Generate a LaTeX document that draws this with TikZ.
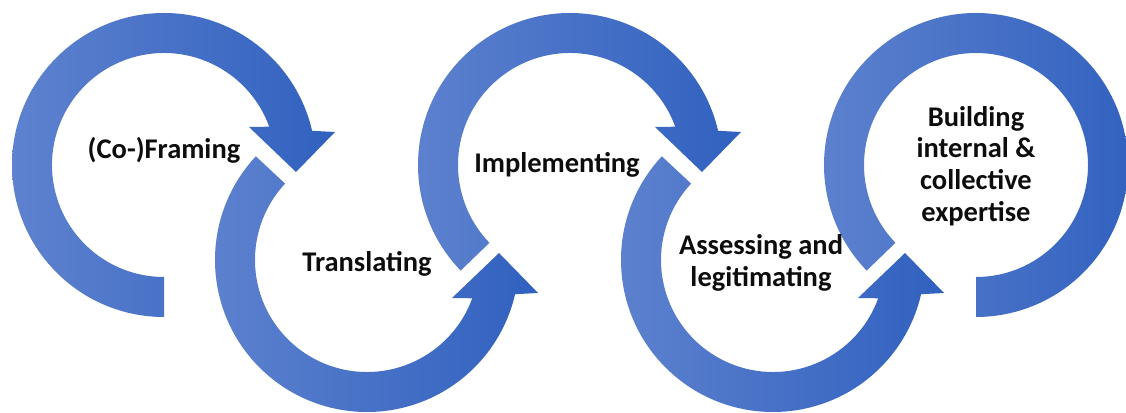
\documentclass[tikz,border=0pt]{standalone}
\usepackage{fontspec}
\setmainfont{Carlito}
\definecolor{ArrowLeftClr}{rgb}{0.37,0.51,0.81}
\definecolor{ArrowRightClr}{rgb}{0.19,0.38,0.75}
\definecolor{TextClr}{rgb}{0.05,0.05,0.05}

\begin{document}
\begin{tikzpicture}[
    ArrowFill/.style={left color=ArrowLeftClr,right color=ArrowRightClr,draw=none},
    StepText/.style={text=TextClr,font=\bfseries\fontsize{28.5}{31.7}\selectfont,align=center,inner sep=0pt}]
\useasboundingbox (0,0) rectangle (1126pt,412pt);

% Centres of the five rings.
\coordinate (C1) at (164pt,247pt);
\coordinate (C2) at (367pt,152pt);
\coordinate (C3) at (570pt,247pt);
\coordinate (C4) at (773pt,152pt);
\coordinate (C5) at (976pt,247pt);

% Upper rings turn clockwise, lower rings counterclockwise.
\begin{scope}[shift={(C1)}]
\shade[ArrowFill] (270:112pt) -- (270:152pt) arc[start angle=270,end angle=13,radius=152pt]
  -- (171pt,33pt) -- (132pt,-7pt) -- (85pt,38pt) -- (20:112pt)
  arc[start angle=20,end angle=270,radius=112pt] -- cycle;
\end{scope}
\begin{scope}[shift={(C2)}]
\shade[ArrowFill] (137:112pt) -- (137:152pt) arc[start angle=137,end angle=347,radius=152pt]
  -- (171pt,-33pt) -- (132pt,7pt) -- (85pt,-38pt) -- (340:112pt)
  arc[start angle=340,end angle=137,radius=112pt] -- cycle;
\end{scope}
\begin{scope}[shift={(C3)}]
\shade[ArrowFill] (224:112pt) -- (224:152pt) arc[start angle=224,end angle=13,radius=152pt]
  -- (171pt,33pt) -- (132pt,-7pt) -- (85pt,38pt) -- (20:112pt)
  arc[start angle=20,end angle=224,radius=112pt] -- cycle;
\end{scope}
\begin{scope}[shift={(C4)}]
\shade[ArrowFill] (137:112pt) -- (137:152pt) arc[start angle=137,end angle=347,radius=152pt]
  -- (171pt,-33pt) -- (132pt,7pt) -- (85pt,-38pt) -- (340:112pt)
  arc[start angle=340,end angle=137,radius=112pt] -- cycle;
\end{scope}
\begin{scope}[shift={(C5)}]
\shade[ArrowFill] (224:112pt) -- (224:152pt) arc[start angle=224,end angle=-90,radius=152pt]
  -- (-90:112pt) arc[start angle=-90,end angle=224,radius=112pt] -- cycle;
\end{scope}

\node[StepText,anchor=base] (framing) at (164pt,253pt) {(Co-)Framing};
\node[StepText,anchor=base] (translating) at (367pt,140pt) {Translating};
\node[StepText,anchor=base] (implementing) at (557pt,239pt) {Implementing};
\node[StepText] (assessing) at (761pt,149pt) {Assessing and\\legitimating};
\node[StepText] (building) at (976pt,246pt) {Building\\internal \&\\collective\\expertise};
\end{tikzpicture}
\end{document}
